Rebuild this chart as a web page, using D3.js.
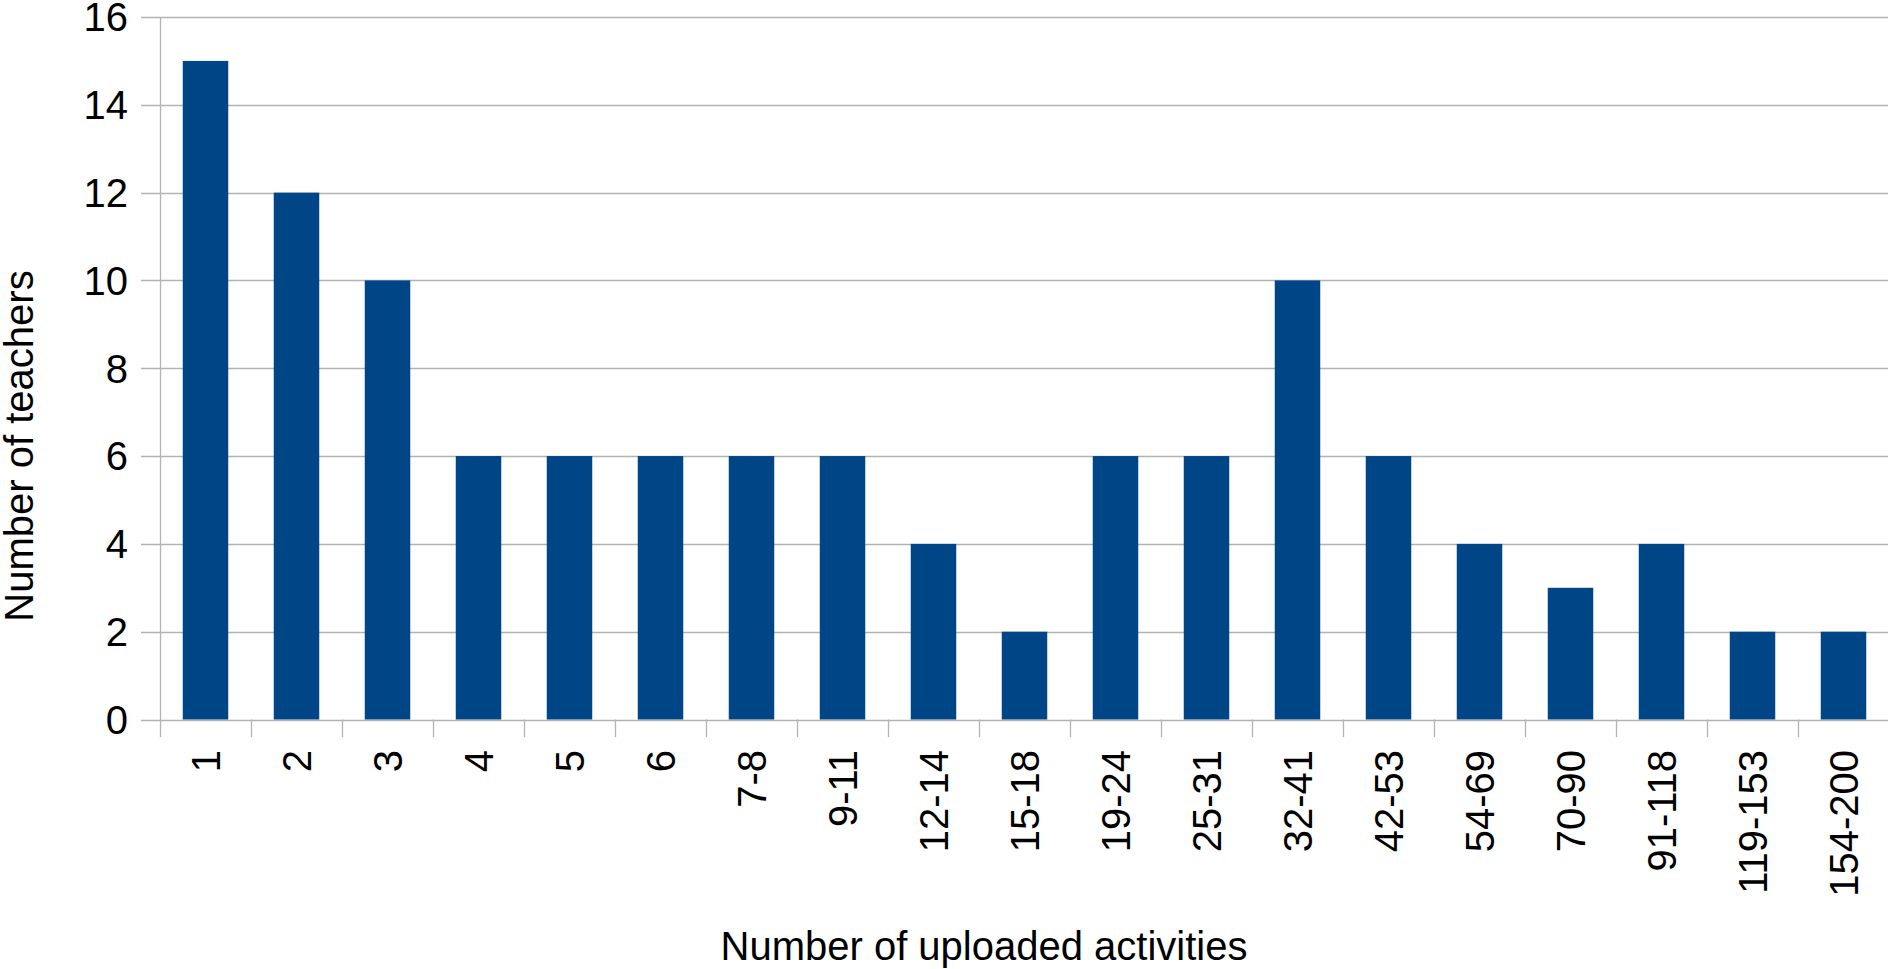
<!DOCTYPE html>
<html>
<head>
<meta charset="utf-8">
<script src="https://cdn.jsdelivr.net/npm/d3@7"></script>
<style>
  html, body { margin: 0; padding: 0; background: #fff; overflow: hidden; }
  svg { display: block; }
  text { font-family: "Liberation Sans", Arial, sans-serif; fill: #000; }
</style>
</head>
<body>
<svg id="chart" width="1888" height="969"></svg>
<script>
const categories = ["1","2","3","4","5","6","7-8","9-11","12-14","15-18","19-24","25-31","32-41","42-53","54-69","70-90","91-118","119-153","154-200"];
const values = [15,12,10,6,6,6,6,6,4,2,6,6,10,6,4,3,4,2,2];
const yTicks = [0,2,4,6,8,10,12,14,16];
const xTitle = "Number of uploaded activities";
const yTitle = "Number of teachers";

(function () {
const svg = d3.select("#chart");
const plotLeft = 160, plotRight = 1889, plotTop = 17, plotBottom = 719.5;
const gridColor = "#b3b3b3";
const barColor = "#004586";

const x = d3.scaleBand().domain(categories).range([plotLeft, plotRight]).paddingInner(0.5).paddingOuter(0.25);
const xb = d3.scaleBand().domain(categories).range([plotLeft, plotRight]).padding(0);
const y = d3.scaleLinear().domain([0, 16]).range([plotBottom, plotTop]);

// horizontal gridlines
svg.append("g").selectAll("line").data(yTicks).join("line")
  .attr("x1", plotLeft - 19).attr("x2", 1888)
  .attr("y1", d => Math.round(y(d)) + 0.5).attr("y2", d => Math.round(y(d)) + 0.5)
  .attr("stroke", gridColor).attr("stroke-width", 1.3);

// y axis line
svg.append("line")
  .attr("x1", plotLeft + 0.5).attr("x2", plotLeft + 0.5)
  .attr("y1", plotTop).attr("y2", plotBottom + 17.5)
  .attr("stroke", gridColor).attr("stroke-width", 1.3);

// x ticks at band boundaries
const bounds = categories.map(c => xb(c)).concat([plotRight]);
svg.append("g").selectAll("line").data(bounds.slice(1)).join("line")
  .attr("x1", d => Math.round(d) + 0.5).attr("x2", d => Math.round(d) + 0.5)
  .attr("y1", plotBottom).attr("y2", plotBottom + 17.5)
  .attr("stroke", gridColor).attr("stroke-width", 1.3);

// bars
svg.append("g").selectAll("rect").data(values).join("rect")
  .attr("x", (d, i) => x(categories[i]))
  .attr("width", x.bandwidth())
  .attr("y", d => y(d))
  .attr("height", d => y(0) - y(d))
  .attr("fill", barColor);

// y tick labels
svg.append("g").selectAll("text").data(yTicks).join("text")
  .attr("x", 128).attr("y", d => y(d))
  .attr("dy", "0.36em")
  .attr("text-anchor", "end")
  .attr("font-size", 40)
  .text(d => d);

// x tick labels (rotated)
svg.append("g").selectAll("text").data(categories).join("text")
  .attr("transform", d => `translate(${xb(d) + xb.bandwidth() / 2},750) rotate(-90)`)
  .attr("dy", "0.36em")
  .attr("text-anchor", "end")
  .attr("font-size", 40)
  .text(d => d);

// axis titles
svg.append("text")
  .attr("x", 984).attr("y", 960)
  .attr("text-anchor", "middle")
  .attr("font-size", 40)
  .text(xTitle);

svg.append("text")
  .attr("transform", "translate(33,446) rotate(-90)")
  .attr("text-anchor", "middle")
  .attr("font-size", 40)
  .text(yTitle);
})();
</script>
</body>
</html>
